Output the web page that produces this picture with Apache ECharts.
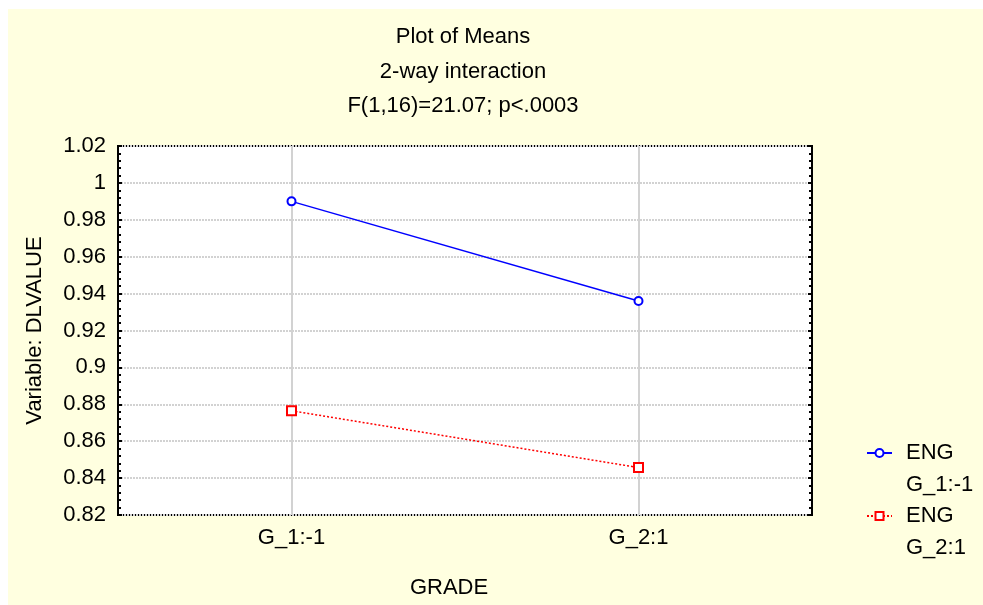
<!DOCTYPE html>
<html>
<head>
<meta charset="utf-8">
<script src="https://cdn.jsdelivr.net/npm/echarts@6/dist/echarts.min.js"></script>
<style>
  html, body { margin: 0; padding: 0; background: #fff; }
  #chart { width: 983px; height: 605px; }
</style>
</head>
<body>
<div id="chart"></div>
<script>
const grades = ['G_1:-1', 'G_2:1'];
const seriesNames = ['ENG\nG_1:-1', 'ENG\nG_2:1'];
const engG1 = [0.990, 0.936];
const engG2 = [0.8765, 0.8457];
const titleLines = ['Plot of Means', '2-way interaction', 'F(1,16)=21.07; p<.0003'];

const font = '"Liberation Sans", Arial, sans-serif';
const color = {
  bg: '#ffffe0',
  blue: '#0000ff',
  red: '#ff0000',
  grid: '#d2d2d2',
  black: '#000',
};

const chart = echarts.init(document.getElementById('chart'), null, { renderer: 'canvas' });

const yAxisBase = {
  type: 'value',
  min: 0.82,
  max: 1.02,
  interval: 0.02,
  axisLine: { show: false },
  axisTick: { show: true, inside: true, length: 4, lineStyle: { color: color.black, width: 2 } },
  minorTick: { show: true, splitNumber: 5, length: 3, lineStyle: { color: color.black, width: 2 } },
};

const option = {
  backgroundColor: '#fff',
  animation: false,
  graphic: [
    { type: 'rect', z: -100, shape: { x: 8, y: 9, width: 975, height: 596 }, style: { fill: color.bg } },
  ],
  title: {
    text: titleLines.join('\n'),
    left: 458,
    top: 15,
    textAlign: 'center',
    textStyle: { fontFamily: font, fontSize: 22, fontWeight: 'normal', color: color.black, lineHeight: 34.5 },
  },
  grid: {
    left: 118,
    top: 146,
    width: 694,
    height: 369,
    show: true,
    backgroundColor: '#fff',
    borderColor: color.black,
    borderWidth: 2,
  },
  legend: {
    orient: 'vertical',
    left: 866,
    top: 405,
    padding: 0,
    itemWidth: 25,
    itemHeight: 10,
    itemGap: -33,
    data: seriesNames,
    formatter: name => '\n' + name,
    textStyle: { fontFamily: font, fontSize: 22, color: color.black, lineHeight: 32, padding: [0, 0, 0, 9] },
  },
  xAxis: [
    {
      type: 'category',
      data: grades,
      boundaryGap: true,
      position: 'bottom',
      axisLine: { show: false },
      axisTick: { alignWithLabel: true, length: 5, lineStyle: { color: color.black, width: 2 } },
      axisLabel: { fontFamily: font, fontSize: 22, color: color.black, margin: 12 },
      splitLine: { show: false },
      name: 'GRADE',
      nameLocation: 'middle',
      nameGap: 62,
      nameTextStyle: { fontFamily: font, fontSize: 22, color: color.black, padding: [0, 32, 0, 0] },
    },
    {
      type: 'category',
      data: grades,
      boundaryGap: true,
      position: 'top',
      axisLine: { show: false },
      axisTick: { alignWithLabel: true, length: 3, lineStyle: { color: color.black, width: 2 } },
      axisLabel: { show: false },
      splitLine: { show: false },
    },
  ],
  yAxis: [
    Object.assign({}, yAxisBase, {
      position: 'left',
      axisLabel: {
        fontFamily: font, fontSize: 22, color: color.black, margin: 12,
        formatter: v => String(parseFloat(v.toFixed(2))),
      },
      splitLine: { show: true, lineStyle: { color: color.grid, width: 2, type: [2, 1] } },
      name: 'Variable: DLVALUE',
      nameLocation: 'middle',
      nameGap: 72,
      nameRotate: 90,
      nameTextStyle: { fontFamily: font, fontSize: 22, color: color.black },
    }),
    Object.assign({}, yAxisBase, {
      position: 'right',
      axisLabel: { show: false },
      splitLine: { show: false },
    }),
  ],
  series: [
    {
      name: seriesNames[0],
      type: 'line',
      data: engG1,
      symbol: 'emptyCircle',
      symbolSize: 8,
      itemStyle: { color: color.blue, borderWidth: 1.5 },
      lineStyle: { color: color.blue, width: 1.5 },
      markLine: {
        silent: true,
        z: 1,
        symbol: 'none',
        label: { show: false },
        lineStyle: { color: color.grid, width: 2, type: 'solid' },
        data: grades.map(g => ({ xAxis: g })),
      },
    },
    {
      name: seriesNames[1],
      type: 'line',
      data: engG2,
      symbol: 'emptyRect',
      symbolSize: 9,
      itemStyle: { color: color.red, borderWidth: 1.5 },
      lineStyle: { color: color.red, width: 1.5, type: [2, 2] },
    },
  ],
};

chart.setOption(option);
</script>
</body>
</html>
